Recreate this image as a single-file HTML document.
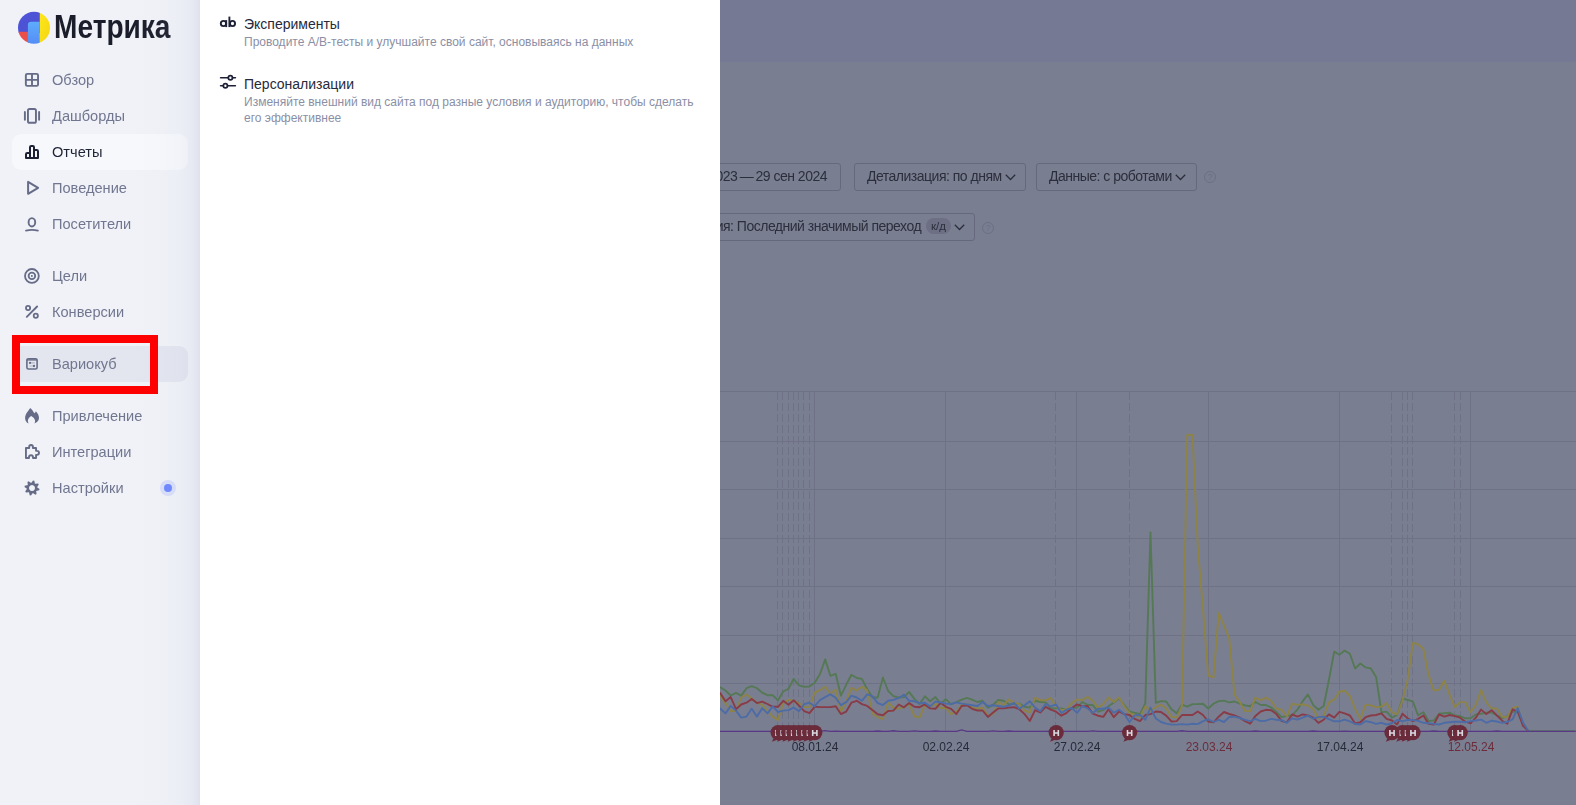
<!DOCTYPE html>
<html><head><meta charset="utf-8">
<style>
*{box-sizing:border-box;margin:0;padding:0}
html,body{width:1576px;height:805px;overflow:hidden;font-family:"Liberation Sans",sans-serif}
body{position:relative;background:#7a7e91}
#side,.btn,.lbl{will-change:transform}
.abs{position:absolute}
#band{left:720px;top:0;width:856px;height:62px;background:#757993}
#content{left:720px;top:62px;width:856px;height:743px;background:#7a7e91}
.btn{position:absolute;height:28px;border:1px solid #66697d;border-radius:3px;color:#2b2e3b;font-size:14px;letter-spacing:-.5px;line-height:25px;white-space:nowrap;overflow:hidden}
.help{position:absolute;width:12px;height:12px;border:1px solid #6c7085;border-radius:50%;color:#6c7085;font-size:9px;line-height:10px;text-align:center}
#side{left:0;top:0;width:200px;height:805px;background:#f0f2f7;overflow:hidden}
#shadow{left:130px;top:0;width:70px;height:805px;background:linear-gradient(to right,rgba(190,195,225,0) 0%,rgba(190,195,225,.03) 40%,rgba(190,195,225,.08) 70%,rgba(190,195,225,.16) 86%,rgba(185,188,220,.25) 96%,rgba(185,188,220,.32) 100%)}
.nav{position:absolute;left:0;width:200px;height:36px}
.nav .t{position:absolute;left:52px;top:1px;line-height:36px;font-size:14.6px;white-space:nowrap;-webkit-font-smoothing:antialiased}
.nav svg{position:absolute;left:20px;top:7px}
#panel{left:200px;top:0;width:520px;height:805px;background:#fff}
.it{position:absolute;left:244px;font-size:14px;color:#262a3a;white-space:nowrap}
.sub{position:absolute;left:244px;font-size:12px;color:#8b8fa5;line-height:16px;white-space:nowrap}
.chev{display:inline-block;margin-left:3px;vertical-align:0}
.kd{display:inline-block;margin-left:5px;height:16px;line-height:16px;padding:0 5px;border-radius:8px;background:#6d7084;font-size:11.5px;letter-spacing:0;color:#2b2e3b;vertical-align:1px}
.lbl{font-size:12px;line-height:14px;white-space:nowrap}
</style></head><body>
<div id="band" class="abs"></div>
<div id="content" class="abs"></div>
<div class="btn" style="left:640px;top:163px;width:201px;text-align:right;padding-right:13px">1 дек 2023&thinsp;—&thinsp;29 сен 2024</div>
<div class="btn" style="left:854px;top:163px;width:172px;padding-left:12px">Детализация: по дням<svg class="chev" width="11" height="7" viewBox="0 0 11 7"><path d="M.8.8l4.7 4.7L10.2.8" fill="none" stroke="#2b2e3b" stroke-width="1.3"/></svg></div>
<div class="btn" style="left:1036px;top:163px;width:161px;padding-left:12px">Данные: с роботами<svg class="chev" width="11" height="7" viewBox="0 0 11 7"><path d="M.8.8l4.7 4.7L10.2.8" fill="none" stroke="#2b2e3b" stroke-width="1.3"/></svg></div>
<div class="help" style="left:1204px;top:171px">?</div>
<div class="btn" style="left:560px;top:213px;width:415px;text-align:right;padding-right:9px">Атрибуция: Последний значимый переход<span class="kd">к/д</span><svg class="chev" width="11" height="7" viewBox="0 0 11 7"><path d="M.8.8l4.7 4.7L10.2.8" fill="none" stroke="#2b2e3b" stroke-width="1.3"/></svg></div>
<div class="help" style="left:982px;top:222px">?</div>
<svg class="abs" style="left:0;top:0" width="1576" height="805" viewBox="0 0 1576 805">
<rect x="720" y="391" width="856" height="1" fill="#6f7286"/>
<rect x="720" y="441" width="856" height="1" fill="#6f7286"/>
<rect x="720" y="489" width="856" height="1" fill="#6f7286"/>
<rect x="720" y="538" width="856" height="1" fill="#6f7286"/>
<rect x="720" y="586" width="856" height="1" fill="#6f7286"/>
<rect x="720" y="635" width="856" height="1" fill="#6f7286"/>
<rect x="720" y="683" width="856" height="1" fill="#6f7286"/>
<rect x="814" y="392" width="1" height="339" fill="#6f7286"/>
<rect x="945" y="392" width="1" height="339" fill="#6f7286"/>
<rect x="1076" y="392" width="1" height="339" fill="#6f7286"/>
<rect x="1208" y="392" width="1" height="339" fill="#6f7286"/>
<rect x="1339" y="392" width="1" height="339" fill="#6f7286"/>
<rect x="1470" y="392" width="1" height="339" fill="#6f7286"/>
<line x1="777.5" y1="392" x2="777.5" y2="726" stroke="#6f7286" stroke-width="1" stroke-dasharray="8 3"/>
<line x1="782.5" y1="392" x2="782.5" y2="726" stroke="#6f7286" stroke-width="1" stroke-dasharray="8 3"/>
<line x1="788.5" y1="392" x2="788.5" y2="726" stroke="#6f7286" stroke-width="1" stroke-dasharray="8 3"/>
<line x1="793.5" y1="392" x2="793.5" y2="726" stroke="#6f7286" stroke-width="1" stroke-dasharray="8 3"/>
<line x1="798.5" y1="392" x2="798.5" y2="726" stroke="#6f7286" stroke-width="1" stroke-dasharray="8 3"/>
<line x1="803.5" y1="392" x2="803.5" y2="726" stroke="#6f7286" stroke-width="1" stroke-dasharray="8 3"/>
<line x1="809.5" y1="392" x2="809.5" y2="726" stroke="#6f7286" stroke-width="1" stroke-dasharray="8 3"/>
<line x1="814.5" y1="392" x2="814.5" y2="726" stroke="#6f7286" stroke-width="1" stroke-dasharray="8 3"/>
<line x1="1055.5" y1="392" x2="1055.5" y2="726" stroke="#6f7286" stroke-width="1" stroke-dasharray="8 3"/>
<line x1="1129.5" y1="392" x2="1129.5" y2="726" stroke="#6f7286" stroke-width="1" stroke-dasharray="8 3"/>
<line x1="1391.5" y1="392" x2="1391.5" y2="726" stroke="#6f7286" stroke-width="1" stroke-dasharray="8 3"/>
<line x1="1402.5" y1="392" x2="1402.5" y2="726" stroke="#6f7286" stroke-width="1" stroke-dasharray="8 3"/>
<line x1="1407.5" y1="392" x2="1407.5" y2="726" stroke="#6f7286" stroke-width="1" stroke-dasharray="8 3"/>
<line x1="1412.5" y1="392" x2="1412.5" y2="726" stroke="#6f7286" stroke-width="1" stroke-dasharray="8 3"/>
<line x1="1454.5" y1="392" x2="1454.5" y2="726" stroke="#6f7286" stroke-width="1" stroke-dasharray="8 3"/>
<line x1="1460.5" y1="392" x2="1460.5" y2="726" stroke="#6f7286" stroke-width="1" stroke-dasharray="8 3"/>
<polyline points="715.0,685.7 720.3,687.3 725.5,690.5 730.7,695.5 736.0,692.9 741.2,695.7 746.5,688.2 751.7,686.2 757.0,688.2 762.2,692.7 767.5,695.2 772.7,695.2 778.0,700.3 783.2,691.5 788.5,688.8 793.7,678.8 799.0,685.3 804.2,686.8 809.5,686.6 814.7,682.8 819.9,674.3 825.2,659.4 830.4,675.8 835.7,673.8 840.9,695.7 846.2,684.8 851.4,674.8 856.7,678.0 861.9,678.9 867.2,689.1 872.4,697.5 877.7,697.5 882.9,677.5 888.2,691.0 893.4,696.1 898.7,697.5 903.9,697.1 909.1,691.9 914.4,698.9 919.6,704.0 924.9,696.3 930.1,701.2 935.4,697.1 940.6,703.6 945.9,699.2 951.1,704.4 956.4,702.0 961.6,699.6 966.9,697.9 972.1,699.6 977.4,702.0 982.6,700.8 987.9,707.6 993.1,704.8 998.3,700.0 1003.6,700.8 1008.8,704.4 1014.1,704.0 1019.3,703.6 1024.6,706.8 1029.8,707.6 1035.1,700.8 1040.3,702.0 1045.6,702.4 1050.8,708.4 1056.1,708.4 1061.3,708.4 1066.6,709.7 1071.8,708.4 1077.1,707.6 1082.3,702.0 1087.5,704.8 1092.8,705.2 1098.0,711.7 1103.3,710.1 1108.5,706.3 1113.8,702.4 1119.0,698.5 1124.3,705.0 1129.5,711.5 1134.8,712.8 1140.0,714.1 1145.3,703.3 1150.5,532.5 1155.8,702.8 1161.0,701.1 1166.2,701.5 1171.5,709.3 1176.7,713.3 1182.0,704.6 1187.2,706.7 1192.5,704.1 1197.7,704.1 1203.0,703.7 1208.2,708.5 1213.5,703.7 1218.7,701.1 1224.0,700.7 1229.2,702.4 1234.5,701.5 1239.7,703.7 1245.0,705.4 1250.2,706.3 1255.4,702.0 1260.7,705.0 1265.9,705.0 1271.2,707.6 1276.4,712.0 1281.7,717.2 1286.9,715.9 1292.2,715.2 1297.4,709.7 1302.7,701.2 1307.9,694.4 1313.2,704.9 1318.4,709.7 1323.7,706.0 1328.9,680.0 1334.2,651.6 1339.4,654.8 1344.6,650.6 1349.9,653.7 1355.1,668.5 1360.4,663.5 1365.6,667.4 1370.9,668.5 1376.1,676.9 1381.4,712.2 1386.6,711.6 1391.9,717.7 1397.1,715.0 1402.4,698.7 1407.6,699.9 1412.9,701.5 1418.1,715.3 1423.4,712.2 1428.6,721.1 1433.8,720.5 1439.1,713.8 1444.3,713.3 1449.6,712.7 1454.8,715.5 1460.1,716.1 1465.3,718.3 1470.6,718.3 1475.8,714.4 1481.1,713.8 1486.3,712.8 1491.6,712.4 1496.8,715.4 1502.1,718.0 1507.3,716.3 1512.6,711.5 1517.8,712.0 1523.0,724.0 1528.3,731.0 1576.0,731.1" fill="none" stroke="#557955" stroke-width="1.9" stroke-linejoin="round"/>
<polyline points="715.0,692.0 720.3,695.7 725.5,703.1 730.7,711.0 736.0,711.0 741.2,697.5 746.5,694.5 751.7,698.5 757.0,702.7 762.2,705.0 767.5,710.6 772.7,716.6 778.0,719.9 783.2,703.1 788.5,699.7 793.7,701.2 799.0,703.2 804.2,707.1 809.5,707.1 814.7,692.7 819.9,690.2 825.2,686.8 830.4,693.7 835.7,689.7 840.9,711.6 846.2,701.7 851.4,687.8 856.7,690.5 861.9,686.8 867.2,690.1 872.4,713.8 877.7,717.1 882.9,719.0 888.2,702.7 893.4,707.8 898.7,708.7 903.9,707.3 909.1,704.1 914.4,716.2 919.6,717.3 924.9,705.2 930.1,707.2 935.4,703.6 940.6,708.0 945.9,708.0 951.1,714.1 956.4,711.7 961.6,704.8 966.9,704.0 972.1,707.6 977.4,708.4 982.6,708.0 987.9,715.7 993.1,714.1 998.3,702.0 1003.6,705.2 1008.8,699.6 1014.1,702.8 1019.3,704.0 1024.6,710.5 1029.8,712.5 1035.1,697.9 1040.3,700.0 1045.6,700.4 1050.8,697.9 1056.1,706.8 1061.3,710.1 1066.6,709.2 1071.8,703.2 1077.1,699.6 1082.3,700.0 1087.5,696.7 1092.8,700.8 1098.0,707.6 1103.3,704.0 1108.5,697.6 1113.8,702.0 1119.0,697.6 1124.3,706.3 1129.5,712.8 1134.8,715.0 1140.0,717.2 1145.3,706.3 1150.5,710.7 1155.8,707.2 1161.0,704.6 1166.2,708.5 1171.5,716.7 1176.7,717.6 1182.0,706.0 1187.2,435.0 1192.5,435.0 1197.7,545.0 1203.0,610.0 1208.2,675.5 1213.5,677.4 1218.7,612.9 1224.0,625.6 1229.2,638.3 1234.5,694.6 1239.7,702.0 1245.0,711.1 1250.2,711.1 1255.4,697.6 1260.7,700.2 1265.9,697.6 1271.2,700.7 1276.4,708.5 1281.7,709.8 1286.9,716.3 1292.2,703.6 1297.4,704.9 1302.7,704.4 1307.9,705.5 1313.2,709.2 1318.4,718.1 1323.7,716.0 1328.9,702.3 1334.2,699.7 1339.4,691.7 1344.6,690.7 1349.9,696.0 1355.1,709.0 1360.4,718.9 1365.6,704.9 1370.9,705.4 1376.1,707.1 1381.4,706.6 1386.6,703.2 1391.9,712.2 1397.1,714.4 1402.4,701.0 1407.6,679.7 1412.9,642.8 1418.1,644.2 1423.4,649.0 1428.6,675.3 1433.8,690.4 1439.1,689.8 1444.3,680.8 1449.6,694.8 1454.8,707.1 1460.1,702.1 1465.3,702.1 1470.6,712.2 1475.8,704.9 1481.1,690.1 1486.3,702.4 1491.6,708.5 1496.8,708.5 1502.1,716.7 1507.3,717.2 1512.6,708.0 1517.8,706.7 1523.0,723.0 1528.3,731.0" fill="none" stroke="#8d8347" stroke-width="1.9" stroke-linejoin="round"/>
<polyline points="715.0,689.3 720.3,693.3 725.5,701.3 730.7,697.1 736.0,709.2 741.2,704.5 746.5,702.7 751.7,698.9 757.0,703.1 762.2,701.7 767.5,704.0 772.7,706.8 778.0,706.8 783.2,700.8 788.5,704.7 793.7,700.2 799.0,705.7 804.2,711.1 809.5,713.1 814.7,706.6 819.9,707.1 825.2,707.1 830.4,707.1 835.7,706.2 840.9,714.1 846.2,711.6 851.4,702.7 856.7,700.8 861.9,704.1 867.2,705.9 872.4,710.1 877.7,714.3 882.9,715.2 888.2,711.0 893.4,710.6 898.7,704.5 903.9,707.3 909.1,703.1 914.4,706.8 919.6,707.2 924.9,704.4 930.1,708.4 935.4,708.8 940.6,702.8 945.9,706.8 951.1,708.8 956.4,714.1 961.6,706.0 966.9,705.2 972.1,708.8 977.4,710.5 982.6,710.5 987.9,716.9 993.1,712.5 998.3,708.4 1003.6,708.4 1008.8,707.6 1014.1,707.2 1019.3,709.2 1024.6,714.1 1029.8,721.0 1035.1,710.1 1040.3,712.5 1045.6,706.8 1050.8,709.7 1056.1,711.7 1061.3,715.7 1066.6,712.9 1071.8,708.0 1077.1,704.4 1082.3,706.4 1087.5,706.0 1092.8,713.7 1098.0,715.7 1103.3,716.9 1108.5,709.3 1113.8,717.2 1119.0,711.5 1124.3,714.1 1129.5,715.0 1134.8,718.9 1140.0,721.1 1145.3,715.0 1150.5,714.1 1155.8,711.5 1161.0,712.0 1166.2,715.6 1171.5,721.5 1176.7,721.1 1182.0,715.0 1187.2,715.0 1192.5,715.0 1197.7,711.5 1203.0,715.0 1208.2,721.5 1213.5,722.4 1218.7,716.7 1224.0,712.0 1229.2,714.0 1234.5,715.4 1239.7,717.6 1245.0,721.1 1250.2,723.7 1255.4,715.9 1260.7,711.5 1265.9,709.8 1271.2,710.2 1276.4,714.1 1281.7,721.1 1286.9,722.4 1292.2,714.5 1297.4,716.6 1302.7,714.4 1307.9,715.5 1313.2,717.6 1318.4,722.9 1323.7,719.7 1328.9,714.4 1334.2,717.6 1339.4,711.8 1344.6,713.4 1349.9,715.5 1355.1,723.4 1360.4,722.2 1365.6,717.2 1370.9,715.5 1376.1,715.0 1381.4,713.3 1386.6,718.9 1391.9,720.5 1397.1,724.5 1402.4,713.8 1407.6,718.3 1412.9,721.1 1418.1,718.9 1423.4,715.5 1428.6,723.9 1433.8,724.5 1439.1,714.4 1444.3,716.6 1449.6,715.0 1454.8,716.1 1460.1,717.7 1465.3,721.7 1470.6,723.3 1475.8,717.7 1481.1,709.6 1486.3,714.1 1491.6,710.2 1496.8,715.4 1502.1,720.7 1507.3,723.7 1512.6,709.3 1517.8,711.5 1523.0,725.9 1528.3,731.0" fill="none" stroke="#893c47" stroke-width="1.9" stroke-linejoin="round"/>
<polyline points="715.0,706.4 720.3,708.7 725.5,713.4 730.7,705.9 736.0,710.6 741.2,717.6 746.5,716.6 751.7,708.7 757.0,716.6 762.2,708.2 767.5,713.4 772.7,706.4 778.0,712.0 783.2,710.6 788.5,710.1 793.7,707.6 799.0,711.1 804.2,704.2 809.5,702.7 814.7,706.2 819.9,700.2 825.2,697.2 830.4,694.2 835.7,697.7 840.9,705.2 846.2,702.2 851.4,695.7 856.7,697.5 861.9,700.8 867.2,694.3 872.4,696.1 877.7,703.1 882.9,705.0 888.2,700.8 893.4,699.9 898.7,698.0 903.9,694.7 909.1,700.8 914.4,701.3 919.6,703.2 924.9,702.8 930.1,706.4 935.4,701.6 940.6,702.4 945.9,703.6 951.1,704.0 956.4,702.4 961.6,703.6 966.9,704.4 972.1,705.2 977.4,706.0 982.6,702.0 987.9,706.0 993.1,705.2 998.3,706.0 1003.6,706.8 1008.8,705.6 1014.1,702.8 1019.3,708.8 1024.6,705.2 1029.8,701.2 1035.1,707.6 1040.3,711.3 1045.6,704.0 1050.8,706.4 1056.1,704.4 1061.3,712.9 1066.6,709.7 1071.8,708.0 1077.1,712.9 1082.3,706.0 1087.5,708.4 1092.8,712.9 1098.0,708.8 1103.3,708.8 1108.5,707.6 1113.8,712.8 1119.0,709.8 1124.3,714.1 1129.5,722.0 1134.8,715.4 1140.0,715.0 1145.3,719.8 1150.5,707.6 1155.8,718.5 1161.0,722.0 1166.2,723.6 1171.5,724.6 1176.7,724.6 1182.0,724.1 1187.2,724.6 1192.5,723.7 1197.7,724.1 1203.0,721.1 1208.2,719.3 1213.5,722.0 1218.7,719.8 1224.0,722.0 1229.2,717.0 1234.5,716.7 1239.7,718.0 1245.0,719.8 1250.2,721.1 1255.4,718.9 1260.7,721.1 1265.9,720.7 1271.2,718.9 1276.4,719.8 1281.7,720.2 1286.9,722.8 1292.2,718.3 1297.4,719.7 1302.7,717.6 1307.9,715.5 1313.2,718.7 1318.4,717.1 1323.7,716.6 1328.9,719.2 1334.2,721.3 1339.4,721.3 1344.6,719.7 1349.9,721.3 1355.1,724.0 1360.4,724.5 1365.6,721.1 1370.9,722.2 1376.1,723.9 1381.4,722.8 1386.6,724.5 1391.9,723.3 1397.1,720.0 1402.4,721.1 1407.6,720.0 1412.9,720.0 1418.1,720.8 1423.4,722.8 1428.6,723.3 1433.8,723.9 1439.1,724.5 1444.3,722.8 1449.6,722.2 1454.8,721.7 1460.1,721.7 1465.3,722.2 1470.6,721.1 1475.8,720.5 1481.1,719.6 1486.3,722.8 1491.6,720.7 1496.8,721.5 1502.1,722.8 1507.3,722.0 1512.6,719.3 1517.8,708.0 1523.0,722.4 1528.3,731.0" fill="none" stroke="#4d6ca6" stroke-width="1.9" stroke-linejoin="round"/>
<polyline points="715.0,731.4 720.3,731.4 725.5,731.4 730.7,731.4 736.0,731.4 741.2,731.4 746.5,731.4 751.7,731.4 757.0,731.4 762.2,731.4 767.5,731.4 772.7,731.4 778.0,731.4 783.2,731.4 788.5,731.4 793.7,731.4 799.0,731.4 804.2,731.4 809.5,731.4 814.7,731.4 819.9,731.4 825.2,730.6 830.4,731.4 835.7,731.1 840.9,731.4 846.2,731.4 851.4,731.4 856.7,731.4 861.9,731.4 867.2,731.4 872.4,731.4 877.7,731.0 882.9,731.4 888.2,731.4 893.4,730.8 898.7,731.4 903.9,731.4 909.1,731.4 914.4,730.9 919.6,731.4 924.9,731.4 930.1,731.4 935.4,731.0 940.6,731.4 945.9,731.4 951.1,731.4 956.4,731.4 961.6,729.9 966.9,731.4 972.1,731.4 977.4,731.4 982.6,731.4 987.9,731.4 993.1,730.9 998.3,731.4 1003.6,731.4 1008.8,731.0 1014.1,731.4 1019.3,731.4 1024.6,731.4 1029.8,731.4 1035.1,731.4 1040.3,731.4 1045.6,731.4 1050.8,731.1 1056.1,731.4 1061.3,731.4 1066.6,731.4 1071.8,731.4 1077.1,731.4 1082.3,731.4 1087.5,731.4 1092.8,730.9 1098.0,731.4 1103.3,731.4 1108.5,731.4 1113.8,731.4 1119.0,731.4 1124.3,731.4 1129.5,731.4 1134.8,731.0 1140.0,731.4 1145.3,731.4 1150.5,731.4 1155.8,731.4 1161.0,731.4 1166.2,731.4 1171.5,731.4 1176.7,731.4 1182.0,730.8 1187.2,731.4 1192.5,731.4 1197.7,731.4 1203.0,731.4 1208.2,731.4 1213.5,731.4 1218.7,731.4 1224.0,731.4 1229.2,731.4 1234.5,731.4 1239.7,731.4 1245.0,731.4 1250.2,731.4 1255.4,731.0 1260.7,731.4 1265.9,731.4 1271.2,731.4 1276.4,731.4 1281.7,731.4 1286.9,731.4 1292.2,731.4 1297.4,731.4 1302.7,731.4 1307.9,731.4 1313.2,731.0 1318.4,731.4 1323.7,731.4 1328.9,731.4 1334.2,731.4 1339.4,731.4 1344.6,731.1 1349.9,731.4 1355.1,731.4 1360.4,731.4 1365.6,731.4 1370.9,731.4 1376.1,731.4 1381.4,731.4 1386.6,731.4 1391.9,731.4 1397.1,731.4 1402.4,731.4 1407.6,731.4 1412.9,731.4 1418.1,731.4 1423.4,731.4 1428.6,731.4 1433.8,731.0 1439.1,731.4 1444.3,731.4 1449.6,731.4 1454.8,731.4 1460.1,731.4 1465.3,731.4 1470.6,731.4 1475.8,731.4 1481.1,731.4 1486.3,731.4 1491.6,731.4 1496.8,731.0 1502.1,731.4 1507.3,731.4 1512.6,731.4 1517.8,731.4 1523.0,731.4 1528.3,731.4 1533.5,731.4 1538.8,731.4 1544.0,731.4 1549.3,731.4 1554.5,731.4 1559.8,731.4 1565.0,731.4 1570.3,731.4 1575.5,731.4" fill="none" stroke="#583887" stroke-width="1.4"/>
<g><path d="M773.6 738.2 L771.9 741.8 L777.1 739.8 Z" fill="#6a2b3b"/><circle cx="778.1" cy="732.6" r="7.6" fill="#6a2b3b"/><path d="M776.0 729.9v6.2M780.2 729.9v6.2M776.0 733h4.2" stroke="#d9dae2" stroke-width="1.6"/></g>
<g><path d="M778.8 738.2 L777.1 741.8 L782.3 739.8 Z" fill="#6a2b3b"/><circle cx="783.3" cy="732.6" r="7.6" fill="#6a2b3b"/><path d="M781.2 729.9v6.2M785.4 729.9v6.2M781.2 733h4.2" stroke="#d9dae2" stroke-width="1.6"/></g>
<g><path d="M784.1 738.2 L782.4 741.8 L787.6 739.8 Z" fill="#6a2b3b"/><circle cx="788.6" cy="732.6" r="7.6" fill="#6a2b3b"/><path d="M786.5 729.9v6.2M790.7 729.9v6.2M786.5 733h4.2" stroke="#d9dae2" stroke-width="1.6"/></g>
<g><path d="M789.3 738.2 L787.6 741.8 L792.8 739.8 Z" fill="#6a2b3b"/><circle cx="793.8" cy="732.6" r="7.6" fill="#6a2b3b"/><path d="M791.7 729.9v6.2M795.9 729.9v6.2M791.7 733h4.2" stroke="#d9dae2" stroke-width="1.6"/></g>
<g><path d="M794.6 738.2 L792.9 741.8 L798.1 739.8 Z" fill="#6a2b3b"/><circle cx="799.1" cy="732.6" r="7.6" fill="#6a2b3b"/><path d="M797.0 729.9v6.2M801.2 729.9v6.2M797.0 733h4.2" stroke="#d9dae2" stroke-width="1.6"/></g>
<g><path d="M799.8 738.2 L798.1 741.8 L803.3 739.8 Z" fill="#6a2b3b"/><circle cx="804.3" cy="732.6" r="7.6" fill="#6a2b3b"/><path d="M802.2 729.9v6.2M806.4 729.9v6.2M802.2 733h4.2" stroke="#d9dae2" stroke-width="1.6"/></g>
<g><path d="M805.1 738.2 L803.4 741.8 L808.6 739.8 Z" fill="#6a2b3b"/><circle cx="809.6" cy="732.6" r="7.6" fill="#6a2b3b"/><path d="M807.5 729.9v6.2M811.7 729.9v6.2M807.5 733h4.2" stroke="#d9dae2" stroke-width="1.6"/></g>
<g><path d="M810.3 738.2 L808.6 741.8 L813.8 739.8 Z" fill="#6a2b3b"/><circle cx="814.8" cy="732.6" r="7.6" fill="#6a2b3b"/><path d="M812.7 729.9v6.2M816.9 729.9v6.2M812.7 733h4.2" stroke="#d9dae2" stroke-width="1.6"/></g>
<g><path d="M1051.7 738.2 L1050.0 741.8 L1055.2 739.8 Z" fill="#6a2b3b"/><circle cx="1056.2" cy="732.6" r="7.6" fill="#6a2b3b"/><path d="M1054.1 729.9v6.2M1058.3 729.9v6.2M1054.1 733h4.2" stroke="#d9dae2" stroke-width="1.6"/></g>
<g><path d="M1125.1 738.2 L1123.4 741.8 L1128.6 739.8 Z" fill="#6a2b3b"/><circle cx="1129.6" cy="732.6" r="7.6" fill="#6a2b3b"/><path d="M1127.5 729.9v6.2M1131.7 729.9v6.2M1127.5 733h4.2" stroke="#d9dae2" stroke-width="1.6"/></g>
<g><path d="M1387.5 738.2 L1385.8 741.8 L1391.0 739.8 Z" fill="#6a2b3b"/><circle cx="1392.0" cy="732.6" r="7.6" fill="#6a2b3b"/><path d="M1389.9 729.9v6.2M1394.1 729.9v6.2M1389.9 733h4.2" stroke="#d9dae2" stroke-width="1.6"/></g>
<g><path d="M1398.0 738.2 L1396.3 741.8 L1401.5 739.8 Z" fill="#6a2b3b"/><circle cx="1402.5" cy="732.6" r="7.6" fill="#6a2b3b"/><path d="M1400.4 729.9v6.2M1404.6 729.9v6.2M1400.4 733h4.2" stroke="#d9dae2" stroke-width="1.6"/></g>
<g><path d="M1403.2 738.2 L1401.5 741.8 L1406.7 739.8 Z" fill="#6a2b3b"/><circle cx="1407.7" cy="732.6" r="7.6" fill="#6a2b3b"/><path d="M1405.6 729.9v6.2M1409.8 729.9v6.2M1405.6 733h4.2" stroke="#d9dae2" stroke-width="1.6"/></g>
<g><path d="M1408.5 738.2 L1406.8 741.8 L1412.0 739.8 Z" fill="#6a2b3b"/><circle cx="1413.0" cy="732.6" r="7.6" fill="#6a2b3b"/><path d="M1410.9 729.9v6.2M1415.1 729.9v6.2M1410.9 733h4.2" stroke="#d9dae2" stroke-width="1.6"/></g>
<g><path d="M1450.4 738.2 L1448.7 741.8 L1453.9 739.8 Z" fill="#6a2b3b"/><circle cx="1454.9" cy="732.6" r="7.6" fill="#6a2b3b"/><path d="M1452.8 729.9v6.2M1457.0 729.9v6.2M1452.8 733h4.2" stroke="#d9dae2" stroke-width="1.6"/></g>
<g><path d="M1455.7 738.2 L1454.0 741.8 L1459.2 739.8 Z" fill="#6a2b3b"/><circle cx="1460.2" cy="732.6" r="7.6" fill="#6a2b3b"/><path d="M1458.1 729.9v6.2M1462.3 729.9v6.2M1458.1 733h4.2" stroke="#d9dae2" stroke-width="1.6"/></g>
</svg>
<div class="abs lbl" style="left:775px;top:740px;width:80px;text-align:center;color:#262a38">08.01.24</div>
<div class="abs lbl" style="left:906px;top:740px;width:80px;text-align:center;color:#262a38">02.02.24</div>
<div class="abs lbl" style="left:1037px;top:740px;width:80px;text-align:center;color:#262a38">27.02.24</div>
<div class="abs lbl" style="left:1168.5px;top:740px;width:80px;text-align:center;color:#6c2c3b">23.03.24</div>
<div class="abs lbl" style="left:1300px;top:740px;width:80px;text-align:center;color:#262a38">17.04.24</div>
<div class="abs lbl" style="left:1431px;top:740px;width:80px;text-align:center;color:#6c2c3b">12.05.24</div>

<div id="side" class="abs">
  
  <svg class="abs" style="left:0;top:0" width="60" height="56" viewBox="0 0 60 56">
    <defs><clipPath id="lc"><circle cx="34" cy="27.8" r="16"/></clipPath>
    <linearGradient id="gy" x1="0" y1="0" x2="1" y2="1"><stop offset="0" stop-color="#ffe81a"/><stop offset="1" stop-color="#f2d20f"/></linearGradient>
    <linearGradient id="gb" x1="0" y1="0" x2="0" y2="1"><stop offset="0" stop-color="#5eacfc"/><stop offset="1" stop-color="#538cf6"/></linearGradient>
    <linearGradient id="gp" x1="0" y1="0" x2="1" y2="1"><stop offset="0" stop-color="#4b55d8"/><stop offset="1" stop-color="#5050d2"/></linearGradient>
    </defs>
    <g clip-path="url(#lc)">
      <rect x="17" y="11" width="23" height="22" fill="url(#gp)"/>
      <rect x="17" y="31.8" width="12" height="14" fill="#e9504a"/>
      <rect x="39.8" y="11" width="12" height="34" fill="url(#gy)"/>
      <path d="M27.9 45V25a3.2 3.2 0 0 1 3.2-3.2h8.7V45z" fill="url(#gb)"/>
    </g>
  </svg>
  <div class="abs" style="left:54px;top:4.7px;font-size:33.4px;font-weight:700;color:#1b1d2b;white-space:nowrap;transform-origin:0 0;transform:scaleX(.841);line-height:44px" id="logo">Метрика</div>
<div class="abs" style="left:12px;top:134px;width:176px;height:36px;border-radius:9px;background:#f7f8fb"></div>
<div class="abs" style="left:12px;top:346px;width:176px;height:36px;border-radius:9px;background:#e3e6ef"></div>
<div class="nav" style="top:61px"><svg width="24" height="24" viewBox="0 0 24 24"><rect x="5.85" y="5.85" width="12.2" height="12" rx="1.4" fill="none" stroke="#666c87" stroke-width="1.9"/><path d="M12 6v12M6 11.9h12" stroke="#666c87" stroke-width="1.9"/></svg><div class="t" style="color:#717690">Обзор</div></div>
<div class="nav" style="top:97px"><svg width="24" height="24" viewBox="0 0 24 24"><rect x="7.95" y="4.95" width="8" height="13.8" rx="1.6" fill="none" stroke="#666c87" stroke-width="1.9"/><path d="M4.9 8v7.7M19.1 8v7.7" stroke="#666c87" stroke-width="1.9" stroke-linecap="round"/></svg><div class="t" style="color:#717690">Дашборды</div></div>
<div class="nav" style="top:133px"><svg width="24" height="24" viewBox="0 0 24 24"><path d="M6 17.9V14.3a1.3 1.3 0 0 1 1.3-1.3H10V7.3A1.3 1.3 0 0 1 11.3 6h1.4A1.3 1.3 0 0 1 14 7.3V10h2.7A1.3 1.3 0 0 1 18 11.3v6.6zM10 13v4.9M14 10v7.9" fill="none" stroke="#1d2136" stroke-width="2" stroke-linejoin="round"/></svg><div class="t" style="color:#1f2336">Отчеты</div></div>
<div class="nav" style="top:169px"><svg width="24" height="24" viewBox="0 0 24 24"><path d="M8.1 5.8V17.8L18.1 11.8z" fill="none" stroke="#666c87" stroke-width="2" stroke-linejoin="round"/></svg><div class="t" style="color:#717690">Поведение</div></div>
<div class="nav" style="top:205px"><svg width="24" height="24" viewBox="0 0 24 24"><ellipse cx="11.9" cy="10.3" rx="3.3" ry="4.15" fill="none" stroke="#666c87" stroke-width="1.9"/><path d="M6 18.6Q12 17.2 17.9 18.6" fill="none" stroke="#666c87" stroke-width="1.9" stroke-linecap="round"/></svg><div class="t" style="color:#717690">Посетители</div></div>
<div class="nav" style="top:257px"><svg width="24" height="24" viewBox="0 0 24 24"><circle cx="11.9" cy="11.9" r="6.9" fill="none" stroke="#666c87" stroke-width="1.8"/><circle cx="11.9" cy="11.9" r="3.3" fill="none" stroke="#666c87" stroke-width="1.8"/><circle cx="11.9" cy="11.9" r="1" fill="#666c87"/></svg><div class="t" style="color:#717690">Цели</div></div>
<div class="nav" style="top:293px"><svg width="24" height="24" viewBox="0 0 24 24"><circle cx="8.06" cy="8.06" r="2.1" fill="none" stroke="#666c87" stroke-width="1.8"/><circle cx="15.8" cy="15.7" r="2.1" fill="none" stroke="#666c87" stroke-width="1.8"/><path d="M6.8 16.8L17.1 6.5" stroke="#666c87" stroke-width="1.9" stroke-linecap="round"/></svg><div class="t" style="color:#717690">Конверсии</div></div>
<div class="nav" style="top:345px"><svg width="24" height="24" viewBox="0 0 24 24"><rect x="6.9" y="6.8" width="10.2" height="10.2" rx="1.6" fill="none" stroke="#666c87" stroke-width="1.6"/><path d="M6.5 7.9h11" stroke="#666c87" stroke-width="1.4"/><path d="M10 10.9h4.8M9.4 14h4.6" stroke="#666c87" stroke-width="1.1" opacity=".4"/><circle cx="10" cy="10.9" r="1.15" fill="#666c87"/><circle cx="14" cy="14" r="1.15" fill="#666c87"/></svg><div class="t" style="color:#717690">Вариокуб</div></div>
<div class="nav" style="top:397px"><svg width="24" height="24" viewBox="0 0 24 24"><path d="M10.1 3.9C8.5 7 5.1 9.5 5.1 14.2C5.1 16.8 6.6 18.6 8.7 19.5C7.9 18.2 7.6 16.8 8.2 15.2C8.8 13.6 10.2 12.6 11.3 11.9C12.6 12.8 14.2 14 14.8 15.7C15.3 17 15.1 18.4 14.3 19.6C17.2 18.5 19 16.5 19 13.8C19 11.2 17.6 9 15.8 7.2C15.6 8.2 15.1 8.9 14.3 9.3C13.2 6.8 11.8 5.2 10.1 3.9Z" fill="#666c87"/></svg><div class="t" style="color:#717690">Привлечение</div></div>
<div class="nav" style="top:433px"><svg width="24" height="24" viewBox="0 0 24 24"><path d="M5.95 7.95H9.2V6.9A1.85 1.85 0 0 1 12.9 6.9V7.95H16.05V10.85H17A2 2 0 0 1 17 14.85H16.05V18.05H13V17.3A2 2 0 0 0 9 17.3V18.05H5.95Z" fill="none" stroke="#666c87" stroke-width="1.9" stroke-linejoin="round"/></svg><div class="t" style="color:#717690">Интеграции</div></div>
<div class="nav" style="top:469px"><svg width="24" height="24" viewBox="0 0 24 24"><path d="M17.03 11.16 L19.53 13.06 L19.23 14.35 L16.15 14.96 L16.57 18.07 L15.45 18.77 L12.84 17.03 L10.94 19.53 L9.65 19.23 L9.04 16.15 L5.93 16.57 L5.23 15.45 L6.97 12.84 L4.47 10.94 L4.77 9.65 L7.85 9.04 L7.43 5.93 L8.55 5.23 L11.16 6.97 L13.06 4.47 L14.35 4.77 L14.96 7.85 L18.07 7.43 L18.77 8.55 Z M12 9a3 3 0 1 0 0.001 0Z" fill="#666c87" fill-rule="evenodd"/></svg><div class="t" style="color:#717690">Настройки</div></div>
<svg class="abs" style="left:160px;top:480px" width="16" height="16"><circle cx="8" cy="8" r="8" fill="#d8ddf8"/><circle cx="8" cy="8" r="4" fill="#6b85ff"/></svg>
<div id="shadow" class="abs"></div>
<div class="abs" style="left:12px;top:335px;width:146px;height:59px;border:8px solid #ff0000"></div>
</div>
<div id="panel" class="abs">
  <svg class="abs" style="left:16px;top:12px" width="24" height="20" viewBox="216 12 24 20">
    <ellipse cx="223.5" cy="23.5" rx="2.7" ry="2.65" fill="none" stroke="#1e2136" stroke-width="1.9"/>
    <path d="M226.2 20.1V27.1" stroke="#1e2136" stroke-width="1.9"/>
    <ellipse cx="232.5" cy="23.5" rx="2.55" ry="2.65" fill="none" stroke="#1e2136" stroke-width="1.9"/>
    <path d="M229.4 16.6V27.1" stroke="#1e2136" stroke-width="1.9"/>
  </svg>
  <svg class="abs" style="left:16px;top:72px" width="24" height="20" viewBox="216 72 24 20">
    <path d="M220.6 77.8h7.8M232.4 77.8h3M220.6 85.8h2.8M227.4 85.8h8" stroke="#1e2136" stroke-width="1.6" stroke-linecap="round"/>
    <circle cx="230.4" cy="77.8" r="2.1" fill="none" stroke="#1e2136" stroke-width="1.7"/>
    <circle cx="225.4" cy="85.8" r="2.1" fill="none" stroke="#1e2136" stroke-width="1.7"/>
  </svg>
</div>
<div class="it" style="top:15.75px;line-height:16px">Эксперименты</div>
<div class="sub" style="top:34.3px">Проводите A/B-тесты и улучшайте свой сайт, основываясь на данных</div>
<div class="it" style="top:76px;line-height:16px">Персонализации</div>
<div class="sub" style="top:94.4px">Изменяйте внешний вид сайта под разные условия и аудиторию, чтобы сделать<br>его эффективнее</div>
</body></html>
